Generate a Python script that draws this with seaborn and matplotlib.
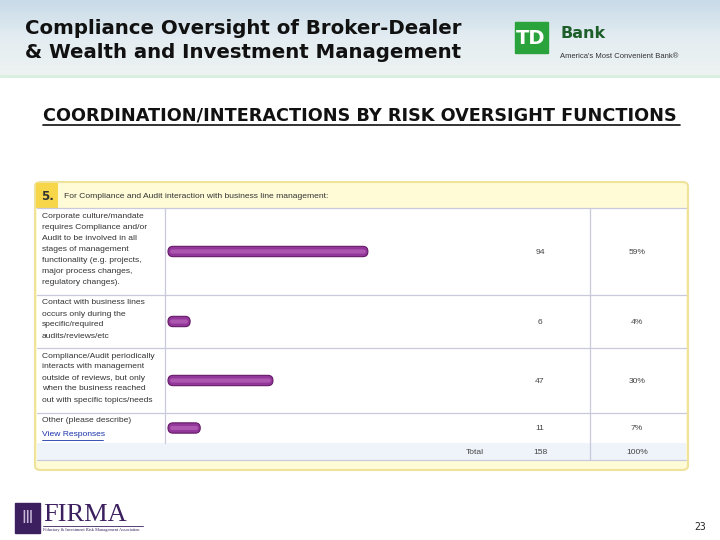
import numpy as np
import pandas as pd
import seaborn as sns
import matplotlib.pyplot as plt
from matplotlib.patches import Rectangle, FancyBboxPatch
from matplotlib.lines import Line2D

# Dados da pergunta 5
respostas = [
    "Corporate culture/mandate\nrequires Compliance and/or\nAudit to be involved in all\nstages of management\nfunctionality (e.g. projects,\nmajor process changes,\nregulatory changes).",
    "Contact with business lines\noccurs only during the\nspecific/required\naudits/reviews/etc",
    "Compliance/Audit periodically\ninteracts with management\noutside of reviews, but only\nwhen the business reached\nout with specific topics/needs",
    "Other (please describe)",
]
contagens = [94, 6, 47, 11]
percentuais = ["59%", "4%", "30%", "7%"]
total_contagem = 158
total_percentual = "100%"

W, H = 720, 540

sns.set_theme(style="white")
plt.rcParams["font.family"] = ["DejaVu Sans"]

fig = plt.figure(figsize=(7.2, 5.4), dpi=100)
fig.patch.set_facecolor("white")


def fx(x):
    return x / W


def fy(y):
    return 1 - y / H


# Fundo do cabecalho (ceu)
bg = fig.add_axes([0, fy(78), 1, 78 / H], zorder=-5)
grad = np.linspace(0, 1, 100).reshape(-1, 1)
bg.imshow(grad, aspect="auto", cmap=sns.blend_palette(["#c9dbe8", "#e4edf2", "#eef3f1"], as_cmap=True),
          extent=[0, 1, 0, 1])
bg.set_axis_off()
fig.add_artist(Line2D([0, 1], [fy(76), fy(76)], color="#d9efdf", lw=2))

# Titulo
fig.text(fx(25), fy(29), "Compliance Oversight of Broker-Dealer", fontsize=14.2, fontweight="bold",
         color="#111111", va="center")
fig.text(fx(25), fy(52), "& Wealth and Investment Management", fontsize=14.2, fontweight="bold",
         color="#111111", va="center")

# Logo TD Bank
fig.add_artist(Rectangle((fx(515), fy(53)), 33 / W, 31 / H, color="#2aa33c", transform=fig.transFigure))
fig.text(fx(531), fy(38), "TD", fontsize=14, fontweight="bold", color="white", ha="center", va="center")
fig.text(fx(560), fy(34), "Bank", fontsize=11.5, fontweight="bold", color="#1e5e2a", va="center")
fig.text(fx(560), fy(56), "America's Most Convenient Bank®", fontsize=5.5, color="#333333", va="center",
         family=["Liberation Sans"])

# Subtitulo
fig.text(fx(43), fy(116), "COORDINATION/INTERACTIONS BY RISK OVERSIGHT FUNCTIONS", fontsize=12.7,
         fontweight="bold", color="#111111", va="center")
fig.add_artist(Line2D([fx(43), fx(680)], [fy(124.5), fy(124.5)], color="#111111", lw=1.2))

# Caixa da tabela
fig.add_artist(FancyBboxPatch((fx(35), fy(470)), 653 / W, 288 / H,
                              boxstyle="round,pad=0,rounding_size=0.008",
                              facecolor="#fffbd6", edgecolor="#efe29a", lw=1.5, transform=fig.transFigure))
fig.add_artist(Rectangle((fx(37), fy(460)), 649 / W, 252 / H, facecolor="white", edgecolor="none",
                         transform=fig.transFigure))
fig.add_artist(Rectangle((fx(37), fy(460)), 649 / W, 17 / H, facecolor="#eef4fa", edgecolor="none",
                         transform=fig.transFigure))
fig.add_artist(Rectangle((fx(36), fy(208)), 22 / W, 25 / H, facecolor="#f7d64a", edgecolor="none",
                         transform=fig.transFigure))
fig.text(fx(47), fy(197), "5.", fontsize=8.5, fontweight="bold", color="#333333", ha="center", va="center")
fig.text(fx(64), fy(196), "For Compliance and Audit interaction with business line management:", fontsize=6.1,
         color="#333333", va="center", family=["Liberation Sans"])

# Linhas da tabela
linhas_y = [208, 295, 348, 413]
for y in linhas_y:
    fig.add_artist(Line2D([fx(37), fx(686)], [fy(y), fy(y)], color="#c9c9dc", lw=0.9))
fig.add_artist(Line2D([fx(37), fx(686)], [fy(460), fy(460)], color="#c9c9dc", lw=0.9))
fig.add_artist(Line2D([fx(165), fx(165)], [fy(208), fy(443)], color="#c9c9dc", lw=0.9))
fig.add_artist(Line2D([fx(590), fx(590)], [fy(208), fy(460)], color="#c9c9dc", lw=0.9))

# Linhas de dados com barras
limites = [(208, 295), (295, 348), (348, 413), (413, 443)]
fonte_tab = dict(fontsize=6.1, color="#444444", family=["Liberation Sans"])
larg_ax = 410  # px
df = pd.DataFrame({"resposta": respostas, "contagem": contagens, "percentual": percentuais})
for (y0, y1), (_, row) in zip(limites, df.iterrows()):
    meio = (y0 + y1) / 2
    ax = fig.add_axes([fx(173), fy(meio + 6), larg_ax / W, 12 / H], zorder=5)
    sns.barplot(data=row.to_frame().T.astype({"contagem": float}), x="contagem", y="resposta",
                color="#9c429c", width=0.86, ax=ax, saturation=1)
    ax.set_xlim(0, larg_ax / 2.02)
    ax.set_axis_off()
    ax.patch.set_alpha(0)
    # barras com pontas arredondadas
    x0, x1 = ax.get_xlim()
    ya, yb = ax.get_ylim()
    ux = (x1 - x0) / larg_ax
    asp = (abs(yb - ya) / 12) / ux
    raio = 5 * ux
    for p in list(ax.patches):
        bx, by, bw, bh = p.get_x(), p.get_y(), p.get_width(), p.get_height()
        p.remove()
        ax.add_patch(FancyBboxPatch((bx - raio, by), bw + 2 * raio, bh,
                                    boxstyle=f"round,pad=0,rounding_size={raio}", mutation_aspect=asp,
                                    facecolor="#93389a", edgecolor="#651a66", lw=0.8, clip_on=False))
        ax.add_patch(FancyBboxPatch((bx - raio * 0.6, by + bh * 0.3), bw + 1.2 * raio, bh * 0.4,
                                    boxstyle=f"round,pad=0,rounding_size={raio * 0.5}", mutation_aspect=asp,
                                    facecolor="#b45fb6", edgecolor="none", alpha=0.8, clip_on=False))
    fig.text(fx(42), fy(y0 + 4.5), row["resposta"], va="top", linespacing=1.8,
             **{**fonte_tab, "color": "#333333"})
    fig.text(fx(540), fy(meio + 1), str(row["contagem"]), ha="center", va="center", **fonte_tab)
    fig.text(fx(637), fy(meio + 1), row["percentual"], ha="center", va="center", **fonte_tab)

fig.text(fx(42), fy(435), "View Responses", fontsize=6.1, color="#1a33aa", va="center",
         family=["Liberation Sans"])
fig.add_artist(Line2D([fx(42), fx(103)], [fy(439.5), fy(439.5)], color="#1a33aa", lw=0.6))

# Linha do total
fig.text(fx(475), fy(453), "Total", ha="center", va="center", **fonte_tab)
fig.text(fx(540), fy(453), str(total_contagem), ha="center", va="center", **fonte_tab)
fig.text(fx(637), fy(453), total_percentual, ha="center", va="center", **fonte_tab)

# Logo FIRMA e numero da pagina
fig.add_artist(Rectangle((fx(15), fy(533)), 25 / W, 30 / H, color="#3b1f5e", transform=fig.transFigure))
fig.text(fx(27.5), fy(518), "Ⅲ", fontsize=12, color="#c8b8d8", ha="center", va="center")
fig.text(fx(43), fy(515), "FIRMA", fontsize=19, color="#3b1f5e", va="center", family=["Liberation Serif"])
fig.text(fx(43), fy(530), "Fiduciary & Investment Risk Management Association", fontsize=3.2,
         color="#3b1f5e", va="center", family=["Liberation Serif"])
fig.add_artist(Line2D([fx(43), fx(143)], [fy(526), fy(526)], color="#3b1f5e", lw=0.6))
fig.text(fx(700), fy(527), "23", fontsize=7, color="#222222", ha="center", va="center",
         family=["DejaVu Sans Mono"])

fig.savefig("out.png", dpi=100)
